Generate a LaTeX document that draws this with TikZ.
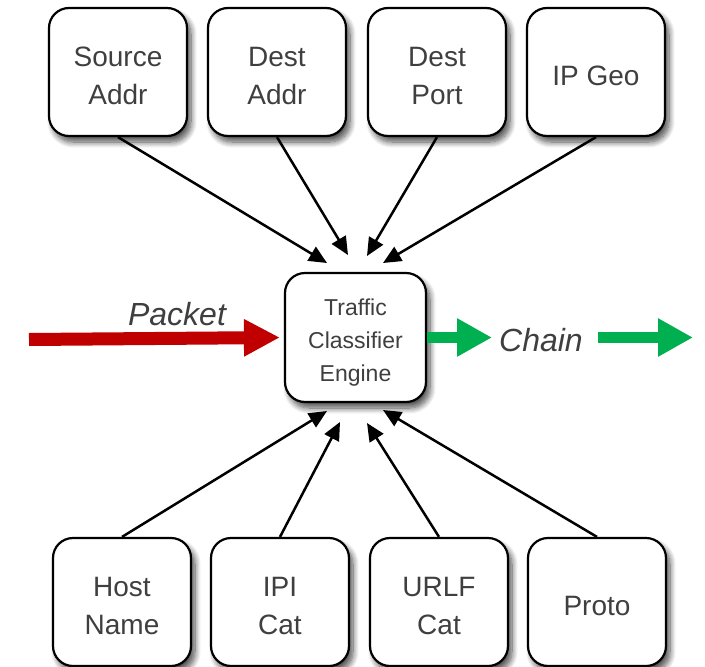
\documentclass[tikz,border=0pt]{standalone}
\usepackage{fontspec}
\setmainfont{Liberation Sans}
\usetikzlibrary{arrows.meta,shadows.blur}
\definecolor{txt}{HTML}{3F3F3F}
\definecolor{redarrow}{HTML}{C00000}
\definecolor{greenarrow}{HTML}{00B050}
\newcommand\tpad{\rule{0pt}{27pt}}
\tikzset{
  boxnode/.style={draw=black, fill=white, line width=2.2pt, rounded corners=20pt,
    minimum width=138pt, minimum height=128pt, align=center, text=txt,
    font=\fontsize{28}{38}\selectfont, inner sep=0pt,
    blur shadow={shadow xshift=4pt, shadow yshift=-6pt, shadow blur radius=6pt, shadow blur steps=10, shadow opacity=70}},
  engine/.style={boxnode, minimum width=141pt, minimum height=129pt, font=\fontsize{23}{33}\selectfont},
  conn/.style={draw=black, line width=2.5pt, -{Triangle[length=18pt,width=16pt]}},
  redarr/.style={draw=redarrow, line width=13pt, -{Triangle[length=36pt,width=35pt]}},
  grnarr/.style={draw=greenarrow, line width=11pt, -{Triangle[length=35pt,width=36pt]}},
  lbl/.style={text=txt, font=\fontsize{32}{38}\selectfont\itshape, anchor=base, inner sep=0pt}
}
\begin{document}
\begin{tikzpicture}[x=1pt,y=-1pt]
\useasboundingbox (0,0) rectangle (705,667);
% top boxes
\node[boxnode] (src)  at (118,72) {\tpad Source\\Addr};
\node[boxnode] (dadr) at (277,72) {\tpad Dest\\Addr};
\node[boxnode] (dprt) at (437,72) {\tpad Dest\\Port};
\node[boxnode] (geo)  at (596,72) {\tpad IP Geo};
% bottom boxes
\node[boxnode] (host) at (122,602) {\tpad Host\\Name};
\node[boxnode] (ipi)  at (280,602) {\tpad IPI\\Cat};
\node[boxnode] (urlf) at (439,602) {\tpad URLF\\Cat};
\node[boxnode] (prot) at (597,602) {\tpad Proto};
% engine
\node[engine] (tce) at (355.5,337.5) {\tpad Traffic\\Classifier\\Engine};
% arrow tip coordinates
\coordinate (t1) at (327,263);
\coordinate (t2) at (348,255);
\coordinate (t3) at (367,256);
\coordinate (t4) at (383,263);
\coordinate (b1) at (327,411);
\coordinate (b2) at (340,422);
\coordinate (b3) at (367,423);
\coordinate (b4) at (383,410);
\draw[conn] (src.south) -- (t1);
\draw[conn] (dadr.south) -- (t2);
\draw[conn] (dprt.south) -- (t3);
\draw[conn] (geo.south) -- (t4);
\draw[conn] (host.north) -- (b1);
\draw[conn] (ipi.north) -- (b2);
\draw[conn] (urlf.north) -- (b3);
\draw[conn] (prot.north) -- (b4);
% packet arrow
\coordinate (pstart) at (29,339.5);
\draw[redarr] (pstart) -- ([xshift=-4pt]tce.west);
\node[lbl] (packet) at (177,325) {Packet};
% chain arrows
\coordinate (g1) at (492,337.5);
\coordinate (g2) at (598,337.5);
\coordinate (g3) at (693,337.5);
\draw[grnarr] (tce.east) -- (g1);
\draw[grnarr] (g2) -- (g3);
\node[lbl] (chain) at (541,351) {Chain};
\end{tikzpicture}
\end{document}
